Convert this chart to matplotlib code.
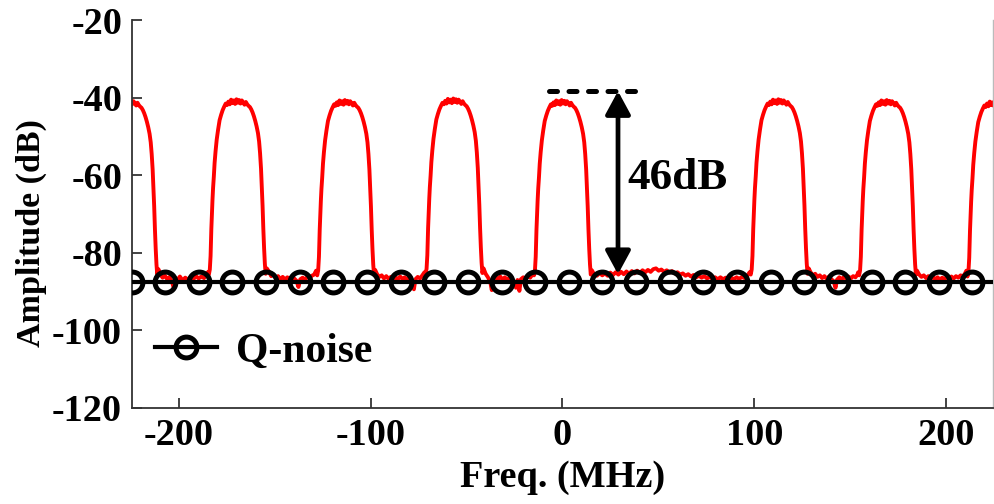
import numpy as np
import matplotlib
matplotlib.use("Agg")
import matplotlib.pyplot as plt

plt.rcParams['font.family'] = ['Liberation Serif', 'DejaVu Serif']
plt.rcParams['font.weight'] = 'bold'
plt.rcParams['axes.unicode_minus'] = False

# ---------------- data ----------------
x_ticks = [-200, -100, 0, 100, 200]
y_ticks = [-120, -100, -80, -60, -40, -20]

# occupied channels (centre MHz, top level dB)
channel_centers = [-226.0, -169.5, -113.0, -56.5, 0.0, 113.0, 169.5, 226.0]
channel_peaks = [-41.0, -40.8, -41.0, -40.6, -41.0, -40.8, -41.0, -41.3]

# measured channel shape: offset from centre (MHz) and level relative to top (dB)
profile_offset = [-14.8, -14.3, -13.9, -13.5, -13.2, -12.9, -12.6, -12.2, -11.8, -11.3,
                  -10.7, -10.0, -9.2, -8.4, -7.6, -6.8, -6.0, -5.3, -4.6, -3.9,
                  -3.2, -2.5, -1.8, -1.1, -0.4, 0.3, 1.0, 1.7, 2.4, 3.1,
                  3.8, 4.5, 5.2, 5.9, 6.6, 7.3, 8.0, 8.7, 9.4, 10.1,
                  10.8, 11.4, 11.9, 12.4, 12.8, 13.2, 13.6, 14.0, 14.4, 14.8]
profile_rel = [-44.8, -43.5, -40.0, -33.0, -29.0, -25.5, -22.5, -19.5, -16.0, -13.0,
               -10.0, -7.5, -5.0, -3.6, -2.4, -1.5, -0.7, -1.1, -0.2, -0.9,
               0.3, -0.6, 0.1, -0.8, 0.4, -0.5, 0.2, -0.7, 0.1, -0.4,
               -1.0, -0.3, -0.9, -1.3, -1.6, -2.2, -3.0, -4.0, -5.2, -6.6,
               -8.3, -10.5, -13.5, -17.5, -22.0, -27.0, -33.0, -38.0, -42.0, -44.6]

# noise floor between channels (MHz, dB)
floor_freq = [
    -210.6, -209.6, -208.4, -207.2, -206.0, -204.8, -203.6, -202.6, -201.8, -200.6,
    -199.4, -198.0, -196.6, -195.2, -193.8, -192.4, -191.0, -189.6, -188.2, -186.8,
    -185.6, -184.9,
    -154.1, -153.0, -151.8, -150.6, -149.4, -148.2, -147.0, -145.8, -144.6, -143.4,
    -142.2, -141.0, -139.8, -138.6, -137.6, -136.6, -135.4, -134.2, -133.0, -131.8,
    -130.6, -129.4, -128.4,
    -97.6, -96.6, -95.4, -94.2, -93.0, -91.8, -90.6, -89.4, -88.2, -87.0,
    -85.8, -84.6, -83.4, -82.2, -81.0, -79.8, -78.6, -77.4, -76.6, -75.4,
    -74.2, -73.0, -71.9,
    -41.1, -40.0, -38.8, -37.6, -36.8, -36.0, -34.8, -33.6, -32.4, -31.2,
    -30.0, -28.8, -27.6, -26.4, -25.2, -24.2, -23.4, -22.4, -21.6, -20.4,
    -19.2, -18.0, -16.8, -15.6, -15.0,
    15.4, 16.6, 18.0, 19.4, 20.8, 22.2, 23.6, 25.0, 26.4, 27.8,
    29.2, 30.6, 32.0, 33.4, 34.8, 36.2, 37.6, 39.0, 40.4, 41.8,
    43.2, 44.6, 46.0, 47.4, 48.8, 50.2, 51.6, 53.0, 54.4, 55.8,
    57.2, 58.6, 60.0, 61.4, 62.8, 64.2, 65.6, 67.0, 68.4, 69.8,
    71.2, 72.6, 74.0, 75.4, 76.8, 78.2, 79.6, 81.0, 82.4, 83.8,
    85.2, 86.6, 88.0, 89.4, 90.8, 92.2, 93.6, 95.0, 96.4, 97.6,
    128.4, 129.4, 130.6, 131.8, 133.0, 134.2, 135.4, 136.6, 137.8, 139.0,
    140.2, 141.4, 142.4, 143.2, 144.4, 145.6, 146.8, 148.0, 149.2, 150.4,
    151.6, 152.8, 153.8, 154.2,
    184.9, 186.0, 187.2, 188.4, 189.6, 190.8, 192.0, 193.2, 194.4, 195.6,
    196.8, 198.0, 199.2, 200.4, 201.6, 202.8, 204.0, 205.2, 206.4, 207.6,
    208.8, 209.8, 210.6,
]
floor_db = [
    -84.2, -85.6, -86.4, -85.9, -86.8, -86.2, -87.4, -89.0, -86.6, -86.9,
    -86.1, -87.1, -86.4, -86.9, -86.2, -86.8, -86.0, -86.6, -86.1, -86.5,
    -85.7, -85.0,
    -84.0, -84.8, -86.0, -85.6, -86.5, -86.0, -86.8, -86.2, -86.9, -86.3,
    -86.7, -86.1, -86.6, -87.2, -88.8, -86.8, -86.4, -86.9, -86.2, -86.5,
    -85.9, -85.6, -84.6,
    -84.4, -85.5, -86.2, -85.8, -86.6, -86.0, -86.7, -86.2, -86.9, -86.3,
    -86.8, -86.1, -86.7, -86.3, -87.0, -86.4, -87.2, -89.4, -86.8, -86.2,
    -86.6, -85.8, -85.0,
    -84.0, -85.4, -86.3, -87.5, -89.6, -86.9, -86.2, -86.8, -86.1, -86.9,
    -86.3, -87.0, -86.4, -86.9, -87.4, -89.0, -87.0, -89.8, -86.8, -86.3,
    -86.7, -86.0, -86.4, -85.6, -85.0,
    -84.5, -85.6, -85.9, -85.2, -85.8, -85.3, -85.9, -85.1, -85.7, -85.0,
    -85.6, -84.9, -85.5, -84.8, -85.4, -84.7, -85.3, -84.6, -85.2, -84.5,
    -85.0, -84.4, -84.9, -84.2, -84.0, -84.6, -84.3, -84.9, -84.5, -85.1,
    -84.7, -85.3, -85.0, -85.6, -85.3, -85.9, -85.5, -86.1, -85.7, -86.3,
    -85.9, -86.4, -86.0, -86.6, -86.2, -86.7, -86.3, -86.8, -86.3, -86.8,
    -86.4, -86.9, -86.4, -86.8, -86.3, -86.7, -86.2, -86.5, -85.9, -85.0,
    -84.0, -85.0, -85.8, -85.4, -86.2, -85.8, -86.5, -86.0, -86.7, -86.1,
    -86.8, -87.3, -89.0, -86.9, -86.3, -86.8, -86.2, -86.7, -86.1, -86.6,
    -86.0, -86.3, -85.6, -85.0,
    -84.6, -85.6, -86.2, -85.8, -86.5, -86.0, -86.7, -86.2, -86.8, -86.3,
    -86.9, -86.4, -86.8, -86.2, -86.7, -86.1, -86.6, -86.0, -86.4, -85.8,
    -86.1, -85.4, -84.6,
]

# quantisation noise level and its marker positions
q_noise_db = -87.5
q_marker_freq = [-224.5, -207.0, -189.5, -172.0, -154.4, -136.9, -119.4, -101.8, -84.3,
                 -66.8, -49.2, -31.7, -14.1, 3.4, 20.9, 38.5, 56.0, 73.5, 91.1, 108.6,
                 126.1, 143.7, 161.2, 178.7, 196.3, 213.8]

# 46 dB annotation
ref_top_db = -38.3
ref_dash_freq = [-7.0, 39.0]
arrow_freq = 29.0
arrow_bottom_db = -85.5
annot_text = "46dB"

x_lim = (-224.5, 224.5)
y_lim = (-120, -20)

# ---------------- build spectrum ----------------
sx, sy = [], []
for c, p in zip(channel_centers, channel_peaks):
    for o, r in zip(profile_offset, profile_rel):
        sx.append(c + o)
        sy.append(p + r)
sx += floor_freq
sy += floor_db
order = np.argsort(sx)
sx = np.asarray(sx)[order]
sy = np.asarray(sy)[order]

# ---------------- figure ----------------
fig = plt.figure(figsize=(9.95, 5.04), dpi=100)
ax = fig.add_axes([0.1324, 0.1905, 0.8656, 0.7695])

ax.plot(sx, sy, color='#ff0000', lw=2.8, zorder=2)

mk = dict(marker='o', markersize=15, markerfacecolor='none',
          markeredgecolor='black', markeredgewidth=3.6)
qx = [x_lim[0]] + q_marker_freq + [x_lim[1]]
qy = [q_noise_db] * len(qx)
ax.plot(qx, qy, color='black', lw=3, markevery=list(range(1, len(qx) - 1)),
        zorder=3, label='Q-noise', **mk)

# dashed reference and arrow
ax.plot(ref_dash_freq, [ref_top_db, ref_top_db], color='black', lw=3.6,
        dashes=(1.6, 2.3), dash_capstyle='round', zorder=4)
ax.annotate('', xy=(arrow_freq, arrow_bottom_db), xytext=(arrow_freq, ref_top_db),
            arrowprops=dict(arrowstyle='<|-|>,head_length=0.7,head_width=0.38',
                            mutation_scale=20, lw=3.4, color='black',
                            shrinkA=0, shrinkB=0), zorder=4)
ax.text(34.0, -60.7, annot_text, fontsize=32.5, fontweight='bold',
        ha='left', va='center', zorder=5)

ax.set_xlim(*x_lim)
ax.set_ylim(*y_lim)
ax.set_xticks(x_ticks)
ax.set_yticks(y_ticks)
ax.set_xticklabels([str(v) for v in x_ticks])
ax.set_yticklabels([str(v) for v in y_ticks])
ax.tick_params(direction='in', length=7, width=1.2, labelsize=27.5, pad=7,
               colors='#222222', labelcolor='black')

for s in ['left', 'bottom']:
    ax.spines[s].set_linewidth(1.3)
    ax.spines[s].set_color('#333333')
ax.spines['top'].set_visible(False)
ax.spines['right'].set_color('#bbbbbb')
ax.spines['right'].set_linewidth(1.0)

ax.set_xlabel('Freq. (MHz)', fontsize=27.5, fontweight='bold')
ax.set_ylabel('Amplitude (dB)', fontsize=24.5, fontweight='bold')
ax.xaxis.set_label_coords(0.5, -0.135)
ax.yaxis.set_label_coords(-0.098, 0.45)

leg = ax.legend(loc='center left', bbox_to_anchor=(0.027, 0.145), frameon=False,
                fontsize=30, handlelength=1.5, handletextpad=0.45, borderpad=0,
                borderaxespad=0, numpoints=1)
for t in leg.get_texts():
    t.set_fontweight('bold')

fig.savefig('out.png', dpi=100)
